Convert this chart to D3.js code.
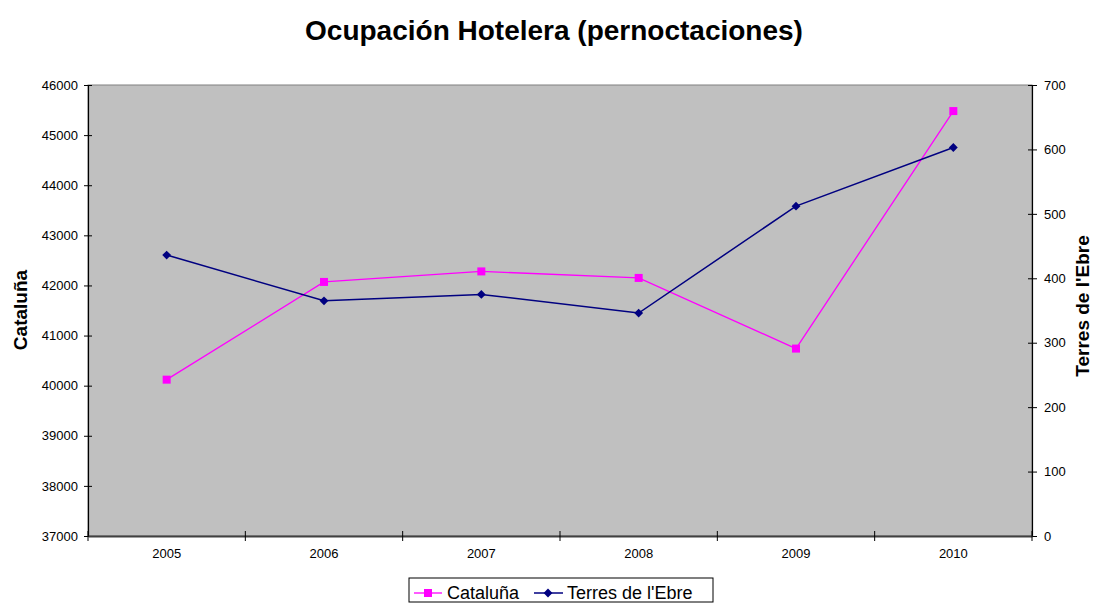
<!DOCTYPE html>
<html><head><meta charset="utf-8">
<script src="https://cdn.jsdelivr.net/npm/d3@7"></script>
<style>body{margin:0;background:#fff;}svg{display:block;font-family:Arial,"Liberation Sans",sans-serif;}</style>
</head><body><svg id="c" width="1094" height="603"></svg>
<script>
const years = ["2005","2006","2007","2008","2009","2010"];
const cataluna = [40120, 42070, 42280, 42150, 40740, 45480];
const terres = [436, 365, 375, 346, 512, 603];
const leftTicks = [37000,38000,39000,40000,41000,42000,43000,44000,45000,46000];
const rightTicks = [0,100,200,300,400,500,600,700];

const svg = d3.select("#c");
const L=88, R=1032, T=85, B=536;
const x = d3.scaleBand().domain(years).range([L,R]);
const yL = d3.scaleLinear().domain([37000,46000]).range([B,T]);
const yR = d3.scaleLinear().domain([0,700]).range([B,T]);

svg.append("rect").attr("x",L).attr("y",T).attr("width",R-L).attr("height",B-T)
  .attr("fill","#C0C0C0").attr("stroke","#808080").attr("stroke-width",1);

// axes
const gL = svg.append("g").attr("transform",`translate(${L},0)`)
  .call(d3.axisLeft(yL).tickValues(leftTicks).tickSize(4).tickPadding(6).tickFormat(d3.format("d")));
const gR = svg.append("g").attr("transform",`translate(${R},0)`)
  .call(d3.axisRight(yR).tickValues(rightTicks).tickSize(5).tickPadding(7).tickFormat(d3.format("d")));
const gX = svg.append("g").attr("transform",`translate(0,${B})`)
  .call(d3.axisBottom(x).tickSize(0).tickPadding(13));
[gL,gR,gX].forEach(g=>{
  g.selectAll("path.domain").attr("stroke","#000").attr("stroke-width",1.2);
  g.selectAll("line").attr("stroke","#000");
  g.selectAll("text").attr("font-size",13).attr("fill","#000").attr("font-family","Arial, 'Liberation Sans', sans-serif");
});
gX.select("path.domain").attr("stroke","#404040").attr("stroke-width",2);
// cross ticks
gL.selectAll(".tick line").attr("x1",4).attr("x2",-4);
gR.selectAll(".tick line").attr("x1",-4).attr("x2",5);
// category separator ticks on x
const sep = d3.range(0, years.length+1).map(i=>L + i*x.step());
svg.append("g").selectAll("line").data(sep).join("line")
  .attr("x1",d=>d).attr("x2",d=>d).attr("y1",B-5).attr("y2",B+5).attr("stroke","#000");

const cx = d => x(d)+x.bandwidth()/2;
// series
const lineC = d3.line().x((d,i)=>cx(years[i])).y(d=>yL(d));
const lineT = d3.line().x((d,i)=>cx(years[i])).y(d=>yR(d));
svg.append("path").attr("d",lineC(cataluna)).attr("fill","none").attr("stroke","#FF00FF").attr("stroke-width",1.3);
svg.append("path").attr("d",lineT(terres)).attr("fill","none").attr("stroke","#000080").attr("stroke-width",1.5);
svg.append("g").selectAll("rect").data(cataluna).join("rect")
  .attr("x",(d,i)=>cx(years[i])-4).attr("y",d=>yL(d)-4).attr("width",8).attr("height",8).attr("fill","#FF00FF");
const diamond = d3.symbol().type(d3.symbolDiamond2).size(50);
svg.append("g").selectAll("path").data(terres).join("path")
  .attr("transform",(d,i)=>`translate(${cx(years[i])},${yR(d)})`).attr("d",diamond).attr("fill","#000080");

// titles
svg.append("text").attr("x",554).attr("y",40).attr("text-anchor","middle")
  .attr("font-size",28).attr("font-weight","bold").text("Ocupación Hotelera (pernoctaciones)");
svg.append("text").attr("transform","translate(27,310) rotate(-90)").attr("text-anchor","middle")
  .attr("font-size",19).attr("font-weight","bold").text("Cataluña");
svg.append("text").attr("transform","translate(1089,306) rotate(-90)").attr("text-anchor","middle")
  .attr("font-size",19).attr("font-weight","bold").text("Terres de l'Ebre");

// legend
const lg = svg.append("g");
lg.append("rect").attr("x",409).attr("y",578).attr("width",304).attr("height",24).attr("fill","#fff").attr("stroke","#000");
lg.append("line").attr("x1",414).attr("x2",442).attr("y1",593).attr("y2",593).attr("stroke","#FF00FF").attr("stroke-width",1.3);
lg.append("rect").attr("x",424).attr("y",589).attr("width",8).attr("height",8).attr("fill","#FF00FF");
lg.append("text").attr("x",447).attr("y",599).attr("font-size",18).text("Cataluña");
lg.append("line").attr("x1",534).attr("x2",563).attr("y1",593).attr("y2",593).attr("stroke","#000080").attr("stroke-width",1.5);
lg.append("path").attr("transform","translate(548,593)").attr("d",diamond).attr("fill","#000080");
lg.append("text").attr("x",567).attr("y",599).attr("font-size",18).text("Terres de l'Ebre");
</script></body></html>
